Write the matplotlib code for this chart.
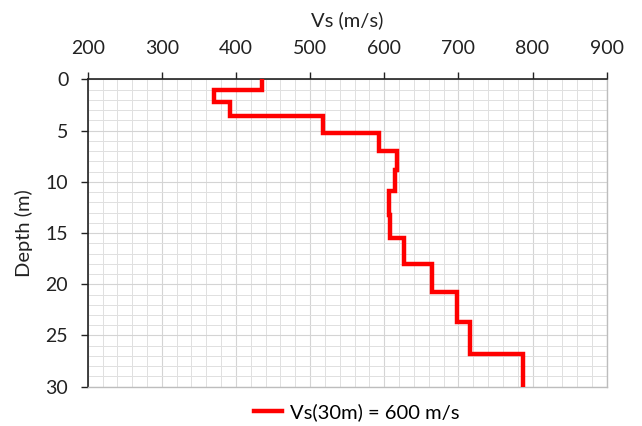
import numpy as np
import matplotlib
matplotlib.use('Agg')
import matplotlib.pyplot as plt
from matplotlib.ticker import MultipleLocator

plt.rcParams['font.family'] = ['Lato', 'DejaVu Sans']

# layer tops / bottoms (m) and shear wave velocity (m/s)
depth_top = [0.0, 1.0, 2.2, 3.6, 5.2, 6.95, 8.8, 10.9, 13.2, 15.5, 18.05, 20.8, 23.7, 26.8]
depth_bot = [1.0, 2.2, 3.6, 5.2, 6.95, 8.8, 10.9, 13.2, 15.5, 18.05, 20.8, 23.7, 26.8, 30.0]
vs = [435, 370, 392, 518, 593, 617, 615, 606, 608, 627, 664, 698, 715, 787]
legend_label = 'Vs(30m) = 600 m/s'

# step profile: each layer is a vertical segment
x = np.repeat(vs, 2)
y = np.column_stack([depth_top, depth_bot]).ravel()

fig = plt.figure(figsize=(6.42, 4.26), dpi=100)
ax = fig.add_axes([0.1366, 0.0923, 0.8084, 0.7211])

ax.plot(x, y, color='#ff0000', lw=3.2, solid_joinstyle='miter', label=legend_label, zorder=3)

ax.set_xlim(200, 900)
ax.set_ylim(30, 0)
ax.xaxis.set_major_locator(MultipleLocator(100))
ax.xaxis.set_minor_locator(MultipleLocator(20))
ax.yaxis.set_major_locator(MultipleLocator(5))
ax.yaxis.set_minor_locator(MultipleLocator(1))
ax.grid(which='minor', color='#e0e0e0', lw=0.7)
ax.grid(which='major', color='#d4d4d4', lw=0.8)
ax.set_axisbelow(True)

ax.xaxis.tick_top()
ax.xaxis.set_label_position('top')
ax.tick_params(which='major', direction='out', length=5, width=1, colors='#222222',
               labelsize=14, labelcolor='#222222')
ax.tick_params(axis='x', pad=11)
ax.tick_params(axis='y', pad=9)
ax.tick_params(which='minor', length=0)
ax.tick_params(axis='x', top=True, bottom=False)

for s in ['left', 'top']:
    ax.spines[s].set_color('#222222')
    ax.spines[s].set_linewidth(1.2)
for s in ['right', 'bottom']:
    ax.spines[s].set_color('#bdbdbd')
    ax.spines[s].set_linewidth(1.0)

ax.set_xlabel('Vs (m/s)', fontsize=14.5, color='#222222', labelpad=10)
ax.set_ylabel('Depth (m)', fontsize=14.5, color='#222222', labelpad=9)

fig.legend(loc='center', bbox_to_anchor=(0.556, 0.032), frameon=False, fontsize=14.5,
           handlelength=1.4, handletextpad=0.4)

fig.savefig('out.png', dpi=100)
